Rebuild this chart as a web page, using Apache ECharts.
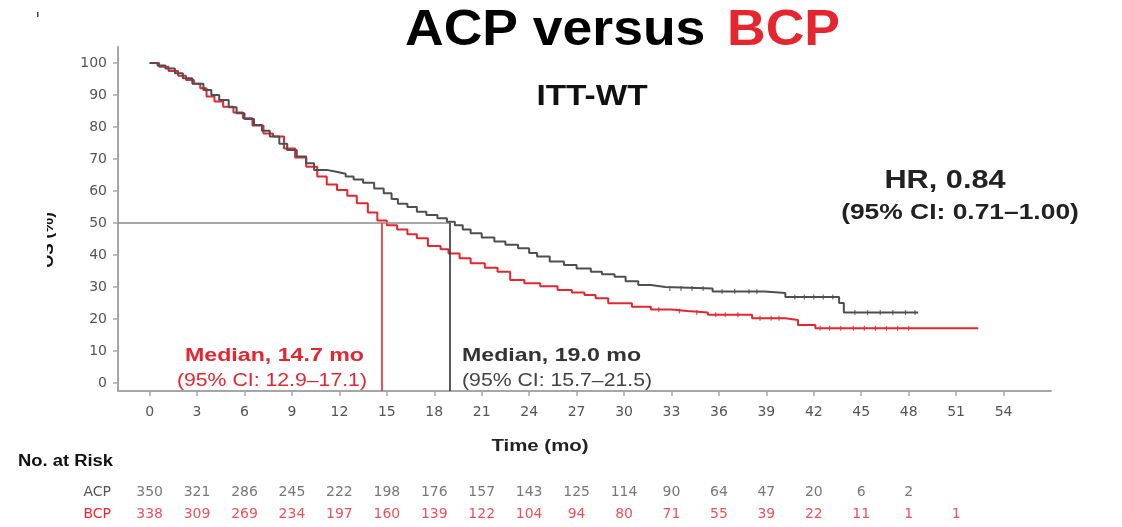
<!DOCTYPE html>
<html>
<head>
<meta charset="utf-8">
<script src="https://cdn.jsdelivr.net/npm/echarts@6/dist/echarts.min.js"></script>
<style>
html,body{margin:0;padding:0;background:#fff;}
#chart{width:1122px;height:527px;}
</style>
</head>
<body>
<div id="chart"></div>
<script>
// ---------------- data ----------------
const xTicks = [0,3,6,9,12,15,18,21,24,27,30,33,36,39,42,45,48,51,54];
const yTicks = [0,10,20,30,40,50,60,70,80,90,100];

const acpTime = [0,0.5,1.0,1.6,2.1,2.7,3.4,3.9,4.4,5.0,5.5,6.0,6.6,7.1,7.6,8.2,8.7,9.3,9.9,10.4,11.2,11.8,12.4,12.9,13.5,14.2,14.8,15.3,15.7,16.3,16.9,17.5,18.2,18.8,19.3,19.8,20.3,21.0,21.8,22.5,23.3,24.0,24.5,25.3,26.2,27.0,27.9,28.6,29.4,30.1,30.9,31.7,32.6,35.6,38.9,40.2,43.6,43.9,48.6];
const acpSurv = [100,99.2,98.3,96.8,95.2,93.5,91.6,90.0,88.4,86.2,84.3,82.5,80.6,78.8,77.0,74.8,72.8,70.8,68.7,66.6,66.0,65.4,64.5,63.6,62.6,60.8,59.3,57.5,56.0,55.0,53.5,52.5,51.5,50.4,49.3,48.0,46.8,45.5,44.2,43.2,42.1,40.6,39.5,38.0,36.9,35.8,34.8,34.0,33.2,31.8,30.6,30.0,29.5,28.6,28.1,26.9,25.0,22.0,22.0];

const bcpTime = [0,0.6,1.2,1.8,2.3,2.8,3.2,3.6,4.1,4.65,5.3,5.9,6.5,7.2,7.8,8.5,9.2,9.9,10.6,11.2,11.85,12.5,13.1,13.8,14.4,15.0,15.65,16.3,16.9,17.6,18.4,18.9,19.6,20.3,21.2,22.0,22.8,23.7,24.7,25.8,26.7,27.5,28.2,29.0,30.5,31.7,33.0,34.0,35.3,38.1,40.2,41.0,42.1,52.4];
const bcpSurv = [100,98.8,97.5,96.0,94.7,93.5,92.1,89.5,88.0,86.3,84.5,82.7,80.5,78.0,77.0,73.3,70.5,67.6,64.5,62.0,60.3,58.5,56.2,53.3,50.8,49.3,48.0,46.5,45.2,42.8,41.8,40.5,39.0,37.4,36.0,34.8,32.2,31.2,30.2,29.1,28.3,27.5,26.5,24.9,23.8,23.0,22.5,22.0,21.3,20.2,19.7,18.1,17.1,17.1];

const acpCensorTime = [32.9,33.6,34.3,35.0,36.2,37.0,37.9,38.4,40.8,41.4,42.0,42.6,43.2,44.6,45.4,46.2,47.0,47.8,48.4];
const acpCensorSurv = [29.5,29.5,29.5,29.5,28.6,28.6,28.6,28.6,26.9,26.9,26.9,26.9,26.9,22.0,22.0,22.0,22.0,22.0,22.0];
const bcpCensorTime = [32.2,33.5,34.6,35.8,36.4,37.2,38.6,39.3,39.8,42.4,43.0,43.7,44.5,45.2,45.9,46.6,47.3,48.0];
const bcpCensorSurv = [23.0,22.5,22.0,21.3,21.3,21.3,20.2,20.2,20.2,17.1,17.1,17.1,17.1,17.1,17.1,17.1,17.1,17.1];

const acpMedian = 19.0;
const bcpMedian = 14.7;

const riskTimes = [0,3,6,9,12,15,18,21,24,27,30,33,36,39,42,45,48,51];
const acpRisk = [350,321,286,245,222,198,176,157,143,125,114,90,64,47,20,6,2];
const bcpRisk = [338,309,269,234,197,160,139,122,104,94,80,71,55,39,22,11,1,1];
const riskRows = ['BCP','ACP'];

// ---------------- styling ----------------
const RED = '#e5262f';
const GRAY = '#4f4f4f';
const AXIS = '#a6a6a6';
const TICKFONT = '"DejaVu Sans", sans-serif';
const X_MIN = -2, X_MAX = 57, Y_MIN = -2.5, Y_MAX = 105;

function zip(a, b) { return a.map((v, i) => [v, b[i]]); }

function txt(text, x, y, opts) {
  return {
    type: 'text', x: x, y: y, scaleX: opts.sx || 1, z: 100,
    style: {
      text: text,
      font: (opts.bold ? 'bold ' : '') + opts.size + 'px "Liberation Sans", Arial, sans-serif',
      fill: opts.color || '#000',
      textAlign: opts.align || 'center',
      textVerticalAlign: 'middle'
    }
  };
}

const chart = echarts.init(document.getElementById('chart'), null, {renderer: 'canvas'});

const option = {
  backgroundColor: '#fff',
  animation: false,
  grid: [
    {left: 118, right: 71, top: 47, bottom: 136},
    {left: 118, right: 71, top: 481, height: 44}
  ],
  xAxis: [
    {
      type: 'value', gridIndex: 0, min: X_MIN, max: X_MAX,
      splitLine: {show: false},
      axisLine: {show: true, onZero: false, lineStyle: {color: AXIS, width: 2}},
      axisTick: {show: true, length: 5, customValues: xTicks, lineStyle: {color: AXIS, width: 1.5}},
      axisLabel: {show: true, customValues: xTicks, margin: 14, color: '#555', fontSize: 14, fontFamily: TICKFONT}
    },
    {
      type: 'value', gridIndex: 1, min: X_MIN, max: X_MAX,
      show: false
    }
  ],
  yAxis: [
    {
      type: 'value', gridIndex: 0, min: Y_MIN, max: Y_MAX,
      splitLine: {show: false},
      axisLine: {show: true, onZero: false, lineStyle: {color: AXIS, width: 2}},
      axisTick: {show: true, length: 5, customValues: yTicks, lineStyle: {color: AXIS, width: 1.5}},
      axisLabel: {show: true, customValues: yTicks, margin: 11, color: '#555', fontSize: 14, fontFamily: TICKFONT}
    },
    {
      type: 'category', gridIndex: 1, data: riskRows,
      axisLine: {show: false}, axisTick: {show: false}, splitLine: {show: false},
      axisLabel: {
        margin: 7, fontSize: 14, fontFamily: TICKFONT,
        formatter: function (v) { return v === 'BCP' ? '{r|' + v + '}' : '{g|' + v + '}'; },
        rich: {r: {color: RED, fontSize: 14, fontFamily: TICKFONT}, g: {color: '#555', fontSize: 14, fontFamily: TICKFONT}}
      }
    }
  ],
  series: [
    {
      name: 'ACP', type: 'line', step: 'end', xAxisIndex: 0, yAxisIndex: 0,
      data: zip(acpTime, acpSurv), showSymbol: false, symbol: 'none',
      lineStyle: {color: GRAY, width: 2}, z: 5,
      markLine: {
        silent: true, symbol: 'none', label: {show: false},
        data: [
          [{coord: [X_MIN, 50], lineStyle: {color: '#8a8a8a', width: 1.5, type: 'solid'}}, {coord: [acpMedian, 50]}],
          [{coord: [acpMedian, 50], lineStyle: {color: '#333', width: 1.6, type: 'solid'}}, {coord: [acpMedian, Y_MIN]}],
          [{coord: [bcpMedian, 50], lineStyle: {color: RED, width: 1.6, type: 'solid'}}, {coord: [bcpMedian, Y_MIN]}]
        ]
      }
    },
    {
      name: 'BCP', type: 'line', step: 'end', xAxisIndex: 0, yAxisIndex: 0,
      data: zip(bcpTime, bcpSurv), showSymbol: false, symbol: 'none',
      lineStyle: {color: RED, width: 2}, z: 4
    },
    {
      type: 'scatter', xAxisIndex: 0, yAxisIndex: 0, data: zip(acpCensorTime, acpCensorSurv),
      symbol: 'rect', symbolSize: [1.2, 5], itemStyle: {color: GRAY}, z: 6
    },
    {
      type: 'scatter', xAxisIndex: 0, yAxisIndex: 0, data: zip(bcpCensorTime, bcpCensorSurv),
      symbol: 'rect', symbolSize: [1.2, 5], itemStyle: {color: RED}, z: 6
    },
    {
      type: 'scatter', xAxisIndex: 1, yAxisIndex: 1, symbolSize: 0,
      data: acpRisk.map((n, i) => [riskTimes[i], 'ACP', n]),
      label: {show: true, position: 'inside', formatter: p => String(p.value[2]), color: '#555', fontSize: 14, fontFamily: TICKFONT}
    },
    {
      type: 'scatter', xAxisIndex: 1, yAxisIndex: 1, symbolSize: 0,
      data: bcpRisk.map((n, i) => [riskTimes[i], 'BCP', n]),
      label: {show: true, position: 'inside', formatter: p => String(p.value[2]), color: RED, fontSize: 14, fontFamily: TICKFONT}
    }
  ],
  graphic: [
    txt('ACP versus', 405, 31, {bold: true, size: 50, sx: 1.07, align: 'left', color: '#000'}),
    txt('BCP', 840, 31, {bold: true, size: 50, sx: 1.07, align: 'right', color: RED}),
    txt('ITT-WT', 592, 97, {bold: true, size: 29, sx: 1.15, color: '#111'}),
    txt('HR, 0.84', 945, 181, {bold: true, size: 26, sx: 1.18, color: '#222'}),
    txt('(95% CI: 0.71\u20131.00)', 960, 213, {bold: true, size: 22, sx: 1.2, color: '#222'}),
    txt('Median, 14.7 mo', 364, 356, {bold: true, size: 19, sx: 1.22, align: 'right', color: RED}),
    txt('(95% CI: 12.9\u201317.1)', 367, 381, {size: 18, sx: 1.18, align: 'right', color: RED}),
    txt('Median, 19.0 mo', 462, 356, {bold: true, size: 19, sx: 1.22, align: 'left', color: '#333'}),
    txt('(95% CI: 15.7\u201321.5)', 462, 381, {size: 18, sx: 1.18, align: 'left', color: '#444'}),
    txt('Time (mo)', 540, 446, {bold: true, size: 17, sx: 1.2, color: '#222'}),
    txt('No. at Risk', 18, 462, {bold: true, size: 16, sx: 1.15, align: 'left', color: '#111'}),
    {
      type: 'text', x: 57, y: 240, rotation: Math.PI / 2, z: 90,
      style: {text: 'OS (%)', font: 'bold 17px "Liberation Sans", Arial, sans-serif', fill: '#111', textAlign: 'center', textVerticalAlign: 'bottom'}
    },
    {type: 'rect', shape: {x: 0, y: 180, width: 47, height: 120}, style: {fill: '#fff'}, z: 95},
    {type: 'rect', shape: {x: 37, y: 12, width: 1.5, height: 5}, style: {fill: '#444'}, z: 95}
  ]
};

chart.setOption(option);
</script>
</body>
</html>
